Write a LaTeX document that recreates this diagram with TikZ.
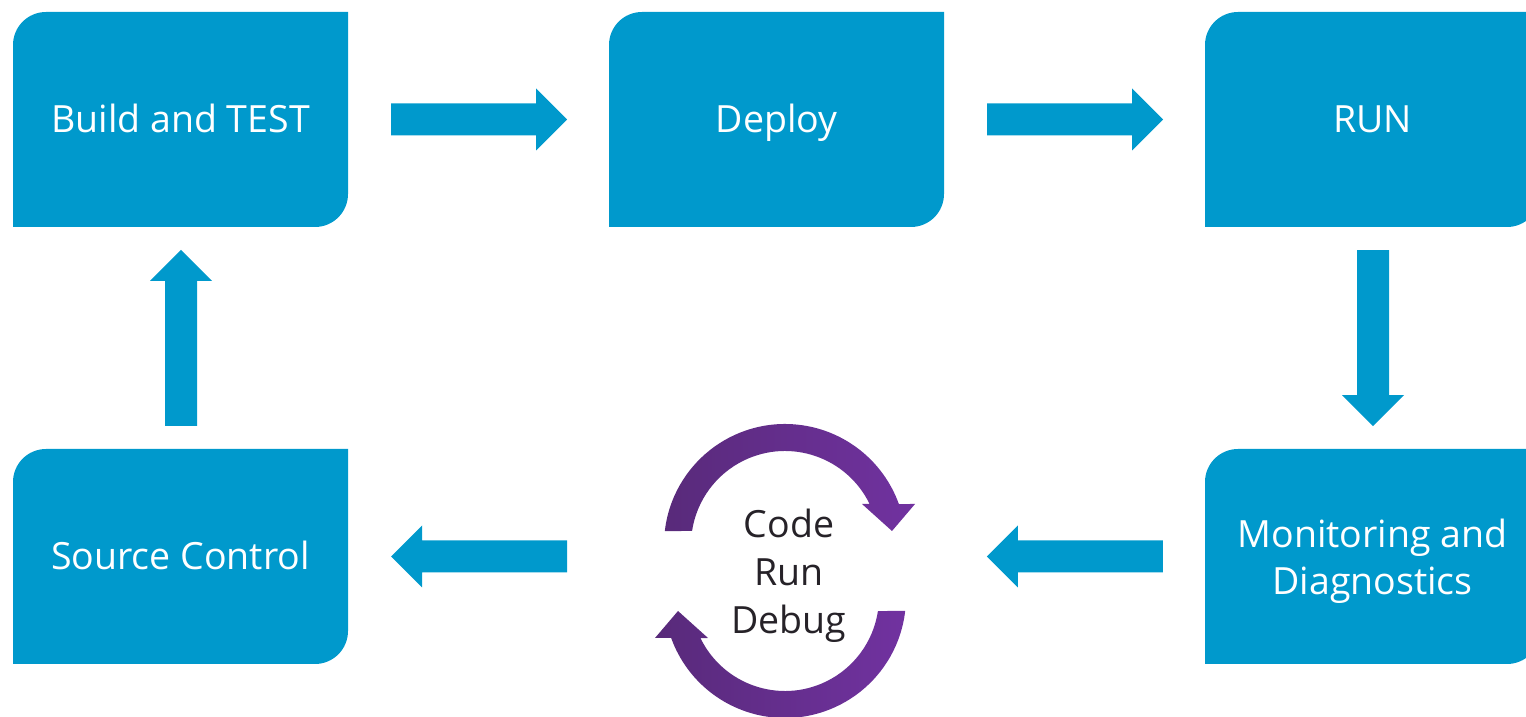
\documentclass[tikz,border=0pt]{standalone}
\usepackage{fontspec}
\setmainfont{Open Sans}
\usetikzlibrary{calc}
\definecolor{boxblue}{RGB}{0,153,204}
\definecolor{purpledark}{RGB}{88,42,122}
\definecolor{purplelight}{RGB}{113,50,160}
\definecolor{loopText}{RGB}{38,34,40}
\tikzset{
  boxtext/.style={text=white, align=center, font=\fontsize{37.5}{47}\selectfont, inner sep=0pt,
    text height=27pt, text depth=0pt},
  boxnode/.style 2 args={rectangle, minimum width=335pt, minimum height=215pt, inner sep=0pt,
    label={[boxtext,#2]center:{#1}},
    path picture={\fill[boxblue] (path picture bounding box.south west)
      -- ([yshift=-33pt]path picture bounding box.north west)
      arc[start angle=180, end angle=90, radius=33pt]
      -- (path picture bounding box.north east)
      -- ([yshift=33pt]path picture bounding box.south east)
      arc[start angle=0, end angle=-90, radius=33pt] -- cycle;}},
  looptext/.style={align=center, text=loopText, font=\fontsize{37.5}{48}\selectfont, inner sep=0pt},
  arcarrow/.style={left color=purpledark, right color=purplelight, draw=none}
}
\newcommand\blockarrow[2]{\fill[boxblue, shift={#1}, rotate=#2]
  (0,-16) -- (145,-16) -- (145,-31) -- (176,0) -- (145,31) -- (145,16) -- (0,16) -- cycle;}
\newcommand\looparc{\path[arcarrow]
  ($(785,172)+(173.4:121)$) arc[start angle=173.4, end angle=19.8, radius=121]
  -- (915,213) -- (892,186) -- (862,213)
  -- ($(785,172)+(25.9:94)$) arc[start angle=25.9, end angle=171.4, radius=94] -- cycle;}
\begin{document}
\begin{tikzpicture}[x=1pt, y=1pt]
\useasboundingbox (0,0) rectangle (1526,717);
\clip (0,0) rectangle (1526,717);
% boxes
\node[boxnode={Build and TEST}{}] (build) at (180.5,597.5) {};
\node[boxnode={Deploy}{}] (deploy) at (776.5,597.5) {};
\node[boxnode={RUN}{}] (run) at (1372.5,597.5) {};
\node[boxnode={Source Control}{}] (source) at (180.5,160.5) {};
\node[boxnode={Monitoring and\\Diagnostics}{yshift=-25pt}] (monitor) at (1372.5,160.5) {};
% center loop
\node[looptext] (loop) at (789,141) {Code\\Run\\Debug};
\looparc
\begin{scope}[rotate around={180:(785,146)}]
\looparc
\end{scope}
% block arrows
\blockarrow{($(build.east)+(43,0)$)}{0}
\blockarrow{($(deploy.east)+(43,0)$)}{0}
\blockarrow{($(run.south)+(0.5,-23)$)}{-90}
\blockarrow{($(monitor.west)+(-42,0)$)}{180}
\blockarrow{($(source.east)+(219,0)$)}{180}
\blockarrow{($(source.north)+(0.5,23)$)}{90}
\end{tikzpicture}
\end{document}
